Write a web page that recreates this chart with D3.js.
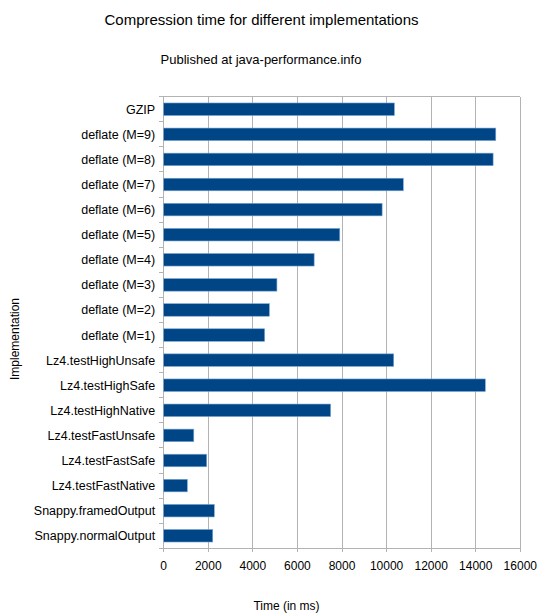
<!DOCTYPE html>
<html><head><meta charset="utf-8">
<script src="https://cdn.jsdelivr.net/npm/d3@7"></script>
<style>body{margin:0;background:#fff}svg{display:block;font-family:"Liberation Sans",Arial,sans-serif}</style>
</head><body><svg id="c" width="547" height="616"></svg>
<script>
const categories = ["GZIP","deflate (M=9)","deflate (M=8)","deflate (M=7)","deflate (M=6)","deflate (M=5)","deflate (M=4)","deflate (M=3)","deflate (M=2)","deflate (M=1)","Lz4.testHighUnsafe","Lz4.testHighSafe","Lz4.testHighNative","Lz4.testFastUnsafe","Lz4.testFastSafe","Lz4.testFastNative","Snappy.framedOutput","Snappy.normalOutput"];
const times = [10350,14900,14780,10750,9800,7900,6750,5080,4740,4530,10320,14430,7490,1350,1930,1060,2270,2200];
const xTicks = [0,2000,4000,6000,8000,10000,12000,14000,16000];
const title = "Compression time for different implementations";
const subtitle = "Published at java-performance.info";
const xTitle = "Time (in ms)";
const yTitle = "Implementation";

const svg = d3.select("#c");
const L = 163.7, R = 520.3, T = 96.7, B = 548.3;
const x = d3.scaleLinear().domain([0,16000]).range([L,R]);
const y = d3.scaleBand().domain(categories).range([T,B]).paddingInner(0.5).paddingOuter(0.25);
const grid = "#b3b3b3";

svg.append("g").selectAll("line").data(xTicks).join("line")
  .attr("x1",d=>x(d)).attr("x2",d=>x(d)).attr("y1",T).attr("y2",B+4)
  .attr("stroke",grid).attr("stroke-width",1).attr("shape-rendering","crispEdges");
svg.append("line").attr("x1",L).attr("x2",R).attr("y1",T).attr("y2",T)
  .attr("stroke",grid).attr("shape-rendering","crispEdges");
svg.append("line").attr("x1",L).attr("x2",R).attr("y1",B).attr("y2",B)
  .attr("stroke",grid).attr("shape-rendering","crispEdges");
svg.append("line").attr("x1",L).attr("x2",L).attr("y1",T).attr("y2",B)
  .attr("stroke",grid).attr("shape-rendering","crispEdges");
const bounds = categories.map(c=>y(c)-y.step()*y.paddingInner()/2).concat([B]);
svg.append("g").selectAll("line").data(bounds).join("line")
  .attr("x1",L-5).attr("x2",L).attr("y1",d=>d).attr("y2",d=>d)
  .attr("stroke",grid).attr("shape-rendering","crispEdges");

svg.append("g").selectAll("rect").data(categories).join("rect")
  .attr("x",x(0)).attr("y",d=>y(d))
  .attr("width",(d,i)=>x(times[i])-x(0)).attr("height",y.bandwidth())
  .attr("fill","#004586").attr("stroke","#7aa6d6").attr("stroke-width",0.6);

svg.append("g").selectAll("text").data(categories).join("text")
  .attr("x",L-8.5).attr("y",d=>y(d)+y.bandwidth()/2).attr("dy","0.36em")
  .attr("text-anchor","end").attr("font-size",12.5).attr("fill","#000").text(d=>d);

svg.append("g").selectAll("text").data(xTicks).join("text")
  .attr("x",d=>x(d)).attr("y",570).attr("text-anchor","middle")
  .attr("font-size",12).attr("fill","#000").text(d=>d);

svg.append("text").attr("x",261.5).attr("y",25).attr("text-anchor","middle")
  .attr("font-size",15).attr("fill","#000").text(title);
svg.append("text").attr("x",261).attr("y",64).attr("text-anchor","middle")
  .attr("font-size",13).attr("fill","#000").text(subtitle);
svg.append("text").attr("x",286.5).attr("y",610).attr("text-anchor","middle")
  .attr("font-size",12).attr("fill","#000").text(xTitle);
svg.append("text").attr("transform","translate(19,339) rotate(-90)").attr("text-anchor","middle")
  .attr("font-size",12).attr("fill","#000").text(yTitle);
</script></body></html>
